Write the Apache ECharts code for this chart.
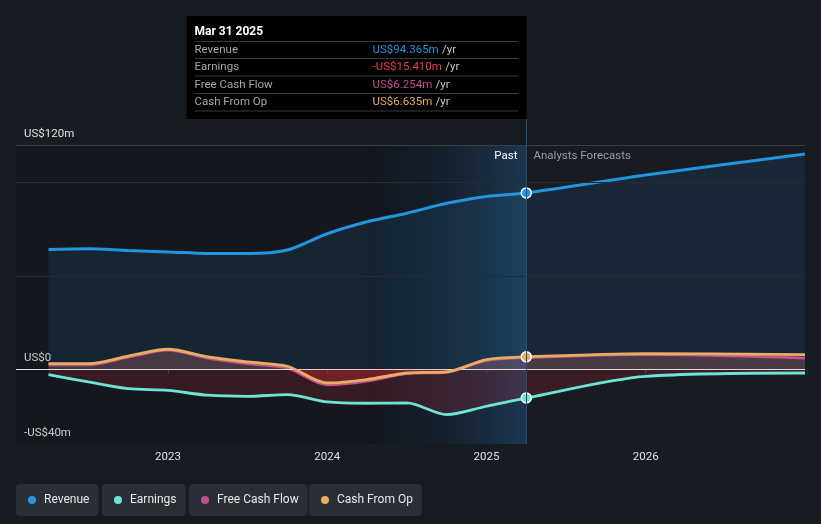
<!DOCTYPE html>
<html>
<head>
<meta charset="utf-8">
<script src="https://cdn.jsdelivr.net/npm/echarts@6/dist/echarts.min.js"></script>
<style>
html,body{margin:0;padding:0;background:#171b22;}
#c{width:821px;height:524px;}
</style>
</head>
<body>
<div id="c"></div>
<script>
// ---------- data ----------
const seriesNames = ['Revenue', 'Earnings', 'Free Cash Flow', 'Cash From Op'];
const pastDates = [2022.25, 2022.5, 2022.75, 2023.0, 2023.25, 2023.5, 2023.75, 2024.0, 2024.25, 2024.5, 2024.75, 2025.0, 2025.25];
const forecastDates = [2025.25, 2026.0, 2027.0];
const revenuePast = [64.1, 64.5, 63.5, 62.8, 62.0, 61.9, 63.8, 72.5, 78.9, 83.5, 88.8, 92.5, 94.365];
const earningsPast = [-2.9, -6.8, -10.4, -11.3, -13.9, -14.5, -13.6, -17.5, -18.2, -18.0, -24.3, -19.8, -15.41];
const fcfPast = [2.4, 2.4, 6.5, 10.3, 6.0, 3.0, 0.6, -8.3, -6.3, -2.3, -1.6, 4.8, 6.254];
const cfoPast = [3.0, 3.0, 7.0, 10.7, 6.6, 3.9, 1.6, -7.3, -5.5, -2.0, -1.4, 5.2, 6.635];
const revenueForecast = [94.365, 103.9, 115.2];
const earningsForecast = [-15.41, -3.8, -2.0];
const fcfForecast = [6.254, 8.0, 6.0];
const cfoForecast = [6.635, 8.4, 7.8];
const tooltipDate = 'Mar 31 2025';
const tooltipValues = [94.365, -15.410, 6.254, 6.635];
const xTickValues = [2023, 2024, 2025, 2026];
const yTickValues = [-40, 0, 120];
const gridValues = [50, 100, 120];
const xRange = [2022.046, 2027.0];
const yRange = [-40, 120];

// ---------- styles ----------
const colors = ['#2394df', '#6fe3d4', '#c4508f', '#e8ad62'];
const valueColors = ['#2394df', '#ef3b4a', '#c4508f', '#e8ad62'];
const areaPos = ['rgba(35,148,223,0.15)', 'rgba(200,40,55,0.28)', 'rgba(210,110,115,0.2)', 'rgba(210,110,115,0.2)'];
const areaNeg = ['rgba(35,148,223,0.15)', 'rgba(200,40,55,0.28)', 'rgba(220,40,50,0.27)', 'rgba(220,40,50,0.27)'];
const FONT = 'Roboto, "Noto Sans", sans-serif';

function money(v, digits) {
  const s = digits === undefined ? String(Math.abs(v)) : Math.abs(v).toFixed(digits);
  return (v < 0 ? '-' : '') + 'US$' + s + (v === 0 && digits === undefined ? '' : 'm');
}

const lastIdx = pastDates.length - 1;
function build(past, fc, color, marker) {
  const data = pastDates.map((d, i) => {
    if (i === lastIdx && marker) {
      return { value: [d, past[i]], symbol: 'circle', symbolSize: 10,
        itemStyle: { color: color, borderColor: '#ffffff', borderWidth: 1.5 } };
    }
    return [d, past[i]];
  });
  for (let i = 1; i < forecastDates.length; i++) data.push([forecastDates[i], fc[i]]);
  return data;
}

const seriesData = [
  build(revenuePast, revenueForecast, colors[0], true),
  build(earningsPast, earningsForecast, colors[1], true),
  build(fcfPast, fcfForecast, colors[2], false),
  build(cfoPast, cfoForecast, colors[3], true)
];

const chart = echarts.init(document.getElementById('c'), null, { renderer: 'canvas' });

const series = [];
series.push({
  type: 'line', name: '_bg', data: [[xRange[0], 0]], symbol: 'none', silent: true, z: 0,
  lineStyle: { opacity: 0 },
  markArea: {
    silent: true,
    data: [
      [{ xAxis: xRange[0], itemStyle: { color: 'rgba(0,0,0,0.10)' } }, { xAxis: pastDates[8] }],
      [{ xAxis: pastDates[8], itemStyle: { color: new echarts.graphic.LinearGradient(0, 0, 1, 0, [
        { offset: 0, color: 'rgba(0,0,0,0.22)' },
        { offset: 0.35, color: 'rgba(10,40,70,0.18)' },
        { offset: 1, color: 'rgba(35,115,175,0.33)' }
      ]) } }, { xAxis: pastDates[lastIdx] }]
    ]
  },
  markLine: {
    silent: true, symbol: ['none', 'none'], animation: false,
    label: { show: false },
    data: gridValues.map(v => ({ yAxis: v, lineStyle: { color: v === yRange[1] ? '#3a3e46' : '#272c34', width: 1, type: 'solid' } }))
  }
});

seriesNames.forEach((name, i) => {
  series.push({
    type: 'line', name: name, data: seriesData[i], z: 2 + i,
    smooth: 0.3,
    symbol: 'none',
    itemStyle: { color: colors[i] },
    lineStyle: { color: colors[i], width: i === 0 ? 3 : 2.8 },
    areaStyle: { color: areaPos[i] },
    emphasis: { disabled: true }
  });
});
series[series.length - 1].markLine = {
  silent: true, symbol: ['none', 'none'], animation: false, label: { show: false },
  data: [{ yAxis: 0, lineStyle: { color: '#e6e6e6', width: 1, type: 'solid' } }]
};

const legendLefts = [16, 102, 189, 309];
const legends = seriesNames.map((n, i) => ({
  data: [n], left: legendLefts[i], top: 484, orient: 'horizontal',
  backgroundColor: '#2a2e36', borderRadius: 4, padding: [10, 9, 10, 12],
  icon: 'circle', itemWidth: 8, itemHeight: 8, itemGap: 0, selectedMode: false,
  textStyle: { color: '#e8e8e8', fontSize: 12, fontFamily: FONT, lineHeight: 12, padding: [0, 0, 0, 3] }
}));

const option = {
  backgroundColor: '#171b22',
  animation: false,
  textStyle: { fontFamily: FONT },
  grid: { left: 16, right: 16, top: 145, bottom: 80 },
  xAxis: {
    type: 'value', min: xRange[0], max: xRange[1],
    splitLine: { show: false },
    axisLine: { show: true, lineStyle: { color: '#464a52', width: 1 } },
    axisTick: { show: true, customValues: xTickValues, length: 4, lineStyle: { color: '#464a52' } },
    axisLabel: { customValues: xTickValues, color: '#e0e0e0', fontSize: 11.5, margin: 7, fontFamily: FONT,
      formatter: v => String(Math.round(v)) }
  },
  yAxis: {
    type: 'value', min: yRange[0], max: yRange[1],
    splitLine: { show: false }, axisLine: { show: false }, axisTick: { show: false },
    axisLabel: {
      customValues: yTickValues, inside: true, margin: 8, color: '#e0e0e0', fontSize: 11.5,
      fontFamily: FONT, verticalAlign: 'bottom', padding: [0, 0, 5, 0],
      formatter: v => money(v)
    }
  },
  legend: legends,
  series: series
};
chart.setOption(option);

// ---------- sign-dependent area colours (split at the zero line) ----------
const zeroY = chart.convertToPixel({ gridIndex: 0 }, [xRange[0], 0])[1];
const H = chart.getHeight();
const zf = zeroY / H;
chart.setOption({
  series: series.map((s, k) => {
    if (k === 0) return {};
    const i = k - 1;
    return { areaStyle: { color: { type: 'linear', x: 0, y: 0, x2: 0, y2: H, global: true,
      colorStops: [
        { offset: 0, color: areaPos[i] }, { offset: zf, color: areaPos[i] },
        { offset: zf, color: areaNeg[i] }, { offset: 1, color: areaNeg[i] }
      ] } } };
  })
});

// ---------- overlay: divider, period labels, fixed tooltip ----------
const pTop = chart.convertToPixel({ gridIndex: 0 }, [pastDates[lastIdx], yRange[1]]);
const pBot = chart.convertToPixel({ gridIndex: 0 }, [pastDates[lastIdx], yRange[0]]);
const divX = Math.round(pTop[0]) + 0.5;
const tipW = 340, tipH = 103, tipTop = 16;
const tipX = divX - tipW;
const graphics = [];
graphics.push({ type: 'line', z: 50, silent: true,
  shape: { x1: divX, y1: tipTop + tipH, x2: divX, y2: pBot[1] },
  style: { stroke: '#22506f', lineWidth: 1 } });
graphics.push({ type: 'text', z: 50, silent: true,
  style: { x: divX - 9, y: pTop[1] + 11, text: 'Past', fill: '#ffffff', font: '11.5px ' + FONT, align: 'right', verticalAlign: 'middle' } });
graphics.push({ type: 'text', z: 50, silent: true,
  style: { x: divX + 7, y: pTop[1] + 11, text: 'Analysts Forecasts', fill: '#9a9ea4', font: '11.5px ' + FONT, align: 'left', verticalAlign: 'middle' } });
graphics.push({ type: 'rect', z: 60, silent: true,
  shape: { x: tipX, y: tipTop, width: tipW, height: tipH }, style: { fill: '#000000' } });
graphics.push({ type: 'text', z: 61, silent: true,
  style: { x: tipX + 8, y: tipTop + 16, text: tooltipDate, fill: '#ffffff', font: 'bold 12px ' + FONT, verticalAlign: 'middle' } });
const sepYs = [41.5, 58.5, 76, 93.5, 111];
sepYs.forEach(y => graphics.push({ type: 'line', z: 61, silent: true,
  shape: { x1: tipX + 8, y1: y, x2: divX - 8, y2: y }, style: { stroke: '#3a3a3a', lineWidth: 1 } }));
seriesNames.forEach((n, i) => {
  const cy = (sepYs[i] + sepYs[i + 1]) / 2;
  graphics.push({ type: 'text', z: 61, silent: true,
    style: { x: tipX + 8, y: cy, text: n, fill: '#a8a8a8', font: '11.5px ' + FONT, verticalAlign: 'middle' } });
  graphics.push({ type: 'text', z: 61, silent: true,
    style: { x: tipX + 186, y: cy, verticalAlign: 'middle',
      text: '{v|' + money(tooltipValues[i], 3) + '} {u|/yr}',
      rich: { v: { fill: valueColors[i], font: '11.5px ' + FONT }, u: { fill: '#c8c8c8', font: '11.5px ' + FONT } } } });
});
chart.setOption({ graphic: graphics });
</script>
</body>
</html>
